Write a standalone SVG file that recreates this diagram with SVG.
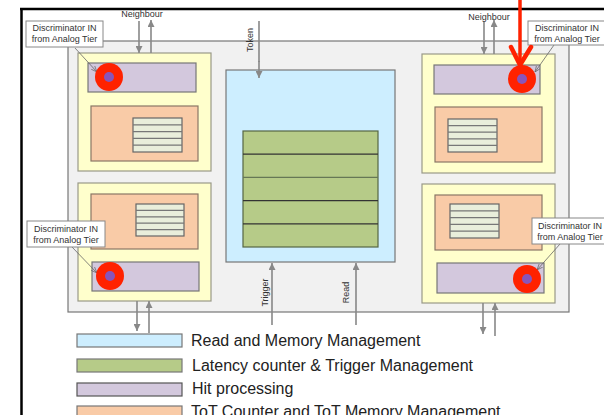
<svg xmlns="http://www.w3.org/2000/svg" width="604" height="415" viewBox="0 0 604 415">
<defs>
<marker id="ah" viewBox="0 0 10 10" refX="10" refY="5" markerWidth="8" markerHeight="7" markerUnits="userSpaceOnUse" orient="auto">
<path d="M0,0 L10,5 L0,10 z" fill="#888"/>
</marker>
<marker id="lh" viewBox="0 0 10 10" refX="10" refY="5" markerWidth="6" markerHeight="6" markerUnits="userSpaceOnUse" orient="auto">
<path d="M0,1 L10,5 L0,9" fill="none" stroke="#666" stroke-width="1.2"/>
</marker>
<g id="tbl5">
</g>
</defs>
<style>
.blk{fill:#ffffcc;stroke:#999988;stroke-width:1.2}
.hit{fill:#d3c8dd;stroke:#777;stroke-width:1.2}
.tot{fill:#f9cba7;stroke:#8a7766;stroke-width:1.2}
.tab{fill:#e9eedb;stroke:#666;stroke-width:1.2}
.tl{stroke:#777;stroke-width:1.2}
.arr{stroke:#888;stroke-width:1.6;fill:none;marker-end:url(#ah)}
.ld{stroke:#666;stroke-width:0.8;fill:none;marker-end:url(#lh)}
.co{fill:#fff;stroke:#888;stroke-width:1}
.sm{font-family:"Liberation Sans",Arial,sans-serif;font-size:9px;fill:#333}
.lg{font-family:"Liberation Sans",Arial,sans-serif;font-size:16px;fill:#222}
.red{fill:#ff2200}
.dot{fill:#8855bb}
</style>
<rect width="604" height="415" fill="#fff"/>
<g id="frame">
<line x1="21.5" y1="9" x2="21.5" y2="415" stroke="#000" stroke-width="2.5"/>
<line x1="20" y1="9" x2="604" y2="9" stroke="#000" stroke-width="2.5"/>
</g>
<g id="chip">
<rect x="68" y="41" width="501" height="271" fill="#f1f1f1" stroke="#777" stroke-width="1.2"/>
</g>
<g id="block-tl">
<rect class="blk" x="78" y="53" width="133" height="118"/>
<rect class="hit" x="88" y="63" width="108" height="29"/>
<rect class="tot" x="91" y="106" width="107" height="55"/>
<rect class="tab" x="133" y="118" width="49" height="34"/>
<path class="tl" d="M133,124.8H182M133,131.6H182M133,138.4H182M133,145.2H182"/>
</g>
<g id="block-bl">
<rect class="blk" x="78" y="183" width="133" height="118"/>
<rect class="tot" x="91" y="194" width="107" height="55"/>
<rect class="tab" x="136" y="204" width="48" height="32"/>
<path class="tl" d="M136,210.4H184M136,216.8H184M136,223.2H184M136,229.6H184"/>
<rect class="hit" x="92" y="262" width="107" height="29"/>
</g>
<g id="block-tr">
<rect class="blk" x="422" y="54" width="133" height="119"/>
<rect class="hit" x="434" y="65" width="106" height="29"/>
<rect class="tot" x="435" y="107" width="107" height="55"/>
<rect class="tab" x="448" y="119" width="49" height="33"/>
<path class="tl" d="M448,125.6H497M448,132.2H497M448,138.8H497M448,145.4H497"/>
</g>
<g id="block-br">
<rect class="blk" x="422" y="184" width="133" height="119"/>
<rect class="tot" x="435" y="195" width="107" height="55"/>
<rect class="tab" x="450" y="204" width="49" height="34"/>
<path class="tl" d="M450,210.8H499M450,217.6H499M450,224.4H499M450,231.2H499"/>
<rect class="hit" x="437" y="263" width="107" height="30"/>
</g>
<g id="memory">
<rect x="226" y="70" width="169" height="192" fill="#cdeeff" stroke="#777" stroke-width="1.2"/>
<rect x="243" y="131" width="135" height="116" fill="#b6cb88" stroke="#556644" stroke-width="1.2"/>
<path d="M243,154.2H378M243,200.6H378M243,223.8H378" stroke="#333" stroke-width="1.2"/>
<path d="M243,177.4H378" stroke="#667755" stroke-width="1.2"/>
</g>
<g id="connectors">
<line class="arr" x1="259" y1="61" x2="259" y2="78"/>
<line x1="259" y1="21" x2="259" y2="62" stroke="#888" stroke-width="1.6"/>
<line class="arr" x1="272" y1="325" x2="272" y2="263"/>
<line class="arr" x1="356" y1="325" x2="356" y2="263"/>
<line class="arr" x1="139" y1="21" x2="139" y2="53"/>
<line class="arr" x1="151" y1="53" x2="151" y2="20"/>
<line class="arr" x1="484" y1="21" x2="484" y2="54"/>
<line class="arr" x1="494" y1="54" x2="494" y2="20"/>
<line class="arr" x1="137" y1="301" x2="137" y2="331"/>
<line class="arr" x1="149" y1="333" x2="149" y2="301"/>
<line class="arr" x1="483" y1="303" x2="483" y2="334"/>
<line class="arr" x1="495" y1="336" x2="495" y2="303"/>
<line class="ld" x1="75" y1="48" x2="97" y2="72"/>
<line class="ld" x1="554" y1="45" x2="535" y2="72"/>
<line class="ld" x1="72" y1="247" x2="97" y2="273"/>
<line class="ld" x1="560" y1="244" x2="537" y2="270"/>
</g>
<g id="labels">
<text class="sm" x="142" y="17" text-anchor="middle">Neighbour</text>
<text class="sm" x="489" y="20" text-anchor="middle">Neighbour</text>
<text class="sm" x="253" y="40" text-anchor="middle" transform="rotate(-90 253 40)">Token</text>
<text class="sm" x="267.5" y="292.5" text-anchor="middle" transform="rotate(-90 267.5 292.5)">Trigger</text>
<text class="sm" x="349" y="292.5" text-anchor="middle" transform="rotate(-90 349 292.5)">Read</text>
</g>
<g id="callout-tl">
<rect class="co" x="26" y="21" width="77" height="26"/>
<text class="sm" x="64.5" y="31" text-anchor="middle">Discriminator IN</text>
<text class="sm" x="64.5" y="42" text-anchor="middle">from Analog Tier</text>
</g>
<g id="callout-tr">
<rect class="co" x="528" y="21" width="78" height="24"/>
<text class="sm" x="567" y="30.5" text-anchor="middle">Discriminator IN</text>
<text class="sm" x="567" y="42" text-anchor="middle">from Analog Tier</text>
</g>
<g id="callout-bl">
<rect class="co" x="27" y="221" width="78" height="26"/>
<text class="sm" x="66" y="232" text-anchor="middle">Discriminator IN</text>
<text class="sm" x="66" y="243" text-anchor="middle">from Analog Tier</text>
</g>
<g id="callout-br">
<rect class="co" x="532" y="218" width="76" height="26"/>
<text class="sm" x="570" y="228.5" text-anchor="middle">Discriminator IN</text>
<text class="sm" x="570" y="240" text-anchor="middle">from Analog Tier</text>
</g>
<g id="markers-red">
<circle class="red" cx="109" cy="77" r="14"/>
<circle class="dot" cx="109" cy="77" r="5"/>
<circle class="red" cx="522" cy="79" r="14"/>
<circle class="dot" cx="522" cy="79" r="5"/>
<circle class="red" cx="110" cy="276" r="14"/>
<circle class="dot" cx="110" cy="276" r="5"/>
<circle class="red" cx="527" cy="279" r="14"/>
<circle class="dot" cx="527" cy="279" r="5"/>
<line x1="520" y1="0" x2="520" y2="64" stroke="#ff2200" stroke-width="3.5"/>
<path d="M511,47 L520,65 L531,47" fill="none" stroke="#ff2200" stroke-width="4.5" stroke-linejoin="round" stroke-linecap="round"/>
</g>
<g id="legend">
<rect x="77" y="334" width="105" height="13" fill="#cdeeff" stroke="#777" stroke-width="1.2"/>
<text class="lg" x="191" y="345.8">Read and Memory Management</text>
<rect x="77" y="359" width="105" height="13" fill="#b6cb88" stroke="#777" stroke-width="1.2"/>
<text class="lg" x="192" y="370.8">Latency counter &amp; Trigger Management</text>
<rect x="77" y="383" width="105" height="13" fill="#d3c8dd" stroke="#555" stroke-width="1.2"/>
<text class="lg" x="192" y="393.8">Hit processing</text>
<rect x="77" y="406" width="105" height="13" fill="#f9cba7" stroke="#777" stroke-width="1.2"/>
<text class="lg" x="191" y="416.8">ToT Counter and ToT Memory Management</text>
</g>
</svg>
